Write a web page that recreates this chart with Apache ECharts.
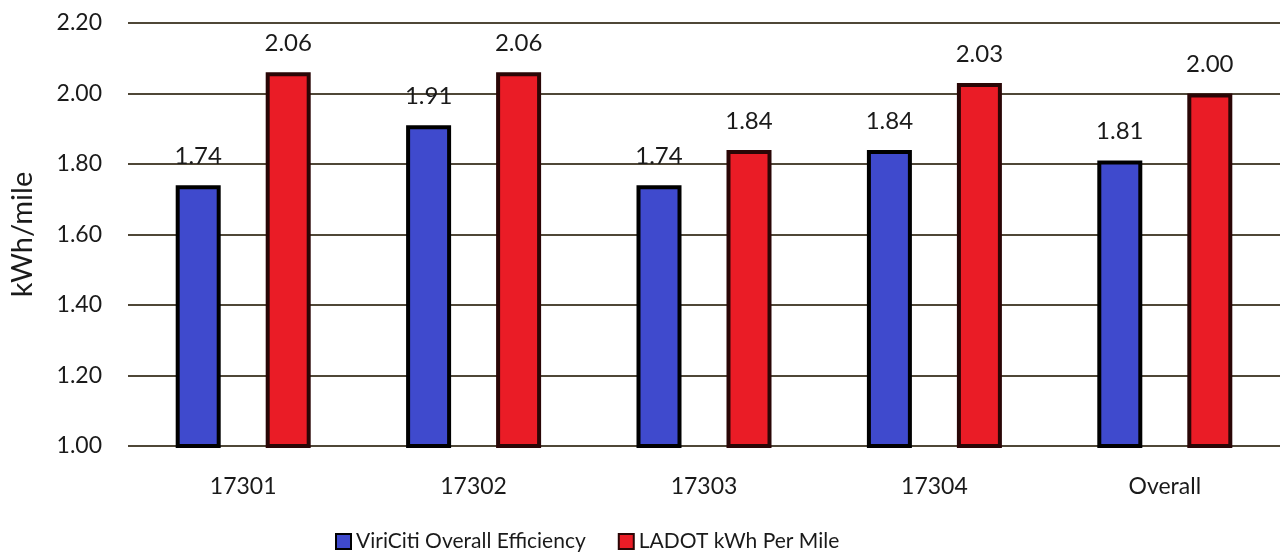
<!DOCTYPE html>
<html>
<head>
<meta charset="utf-8">
<script src="https://cdn.jsdelivr.net/npm/echarts@6/dist/echarts.min.js"></script>
<style>
  html, body { margin: 0; padding: 0; background: #fff; }
  #chart { width: 1285px; height: 559px; }
</style>
</head>
<body>
<div id="chart"></div>
<script>
// chart data
const categories = ['17301', '17302', '17303', '17304', 'Overall']
const viriciti = [1.74, 1.91, 1.74, 1.84, 1.81]
const ladot = [2.06, 2.06, 1.84, 2.03, 2.00]
const seriesNames = ['ViriCiti Overall Efficiency', 'LADOT kWh Per Mile']

const font = 'Lato, "Open Sans", sans-serif'
const chart = echarts.init(document.getElementById('chart'))

const labelStyle = {
  show: true,
  position: 'top',
  distance: 17,
  fontFamily: font,
  fontSize: 24,
  color: '#1a1a1a',
  formatter: p => p.value.toFixed(2)
}

chart.setOption({
  animation: false,
  textStyle: { fontFamily: font },
  grid: {
    left: 128,
    right: 5,
    top: 23,
    bottom: 113,
    containLabel: false,
    outerBoundsMode: 'none'
  },
  legend: {
    data: seriesNames,
    left: 330,
    bottom: 2,
    itemWidth: 15,
    itemHeight: 15,
    itemGap: 32,
    icon: 'rect',
    textStyle: { fontFamily: font, fontSize: 21, color: '#1a1a1a' }
  },
  xAxis: {
    type: 'category',
    data: categories,
    axisLine: { show: false },
    axisTick: { show: false },
    axisLabel: { fontFamily: font, fontSize: 23, color: '#1a1a1a', margin: 29 }
  },
  yAxis: {
    type: 'value',
    min: 1.0,
    max: 2.2,
    interval: 0.2,
    name: 'kWh/mile',
    nameLocation: 'middle',
    nameGap: 91,
    nameTextStyle: { fontFamily: font, fontSize: 29, color: '#1a1a1a' },
    axisLabel: {
      fontFamily: font,
      fontSize: 23,
      color: '#1a1a1a',
      margin: 26,
      formatter: v => v.toFixed(2)
    },
    splitLine: { lineStyle: { color: '#4f4737', width: 2 } }
  },
  series: [
    {
      name: seriesNames[0],
      type: 'bar',
      data: viriciti,
      barWidth: 45,
      barGap: '100%',
      itemStyle: {
        color: '#3f4acd',
        borderColor: '#000',
        borderWidth: 4
      },
      label: labelStyle
    },
    {
      name: seriesNames[1],
      type: 'bar',
      data: ladot,
      barWidth: 45,
      itemStyle: {
        color: '#ea1c26',
        borderColor: '#2a0606',
        borderWidth: 4
      },
      label: labelStyle
    }
  ]
})
</script>
</body>
</html>
